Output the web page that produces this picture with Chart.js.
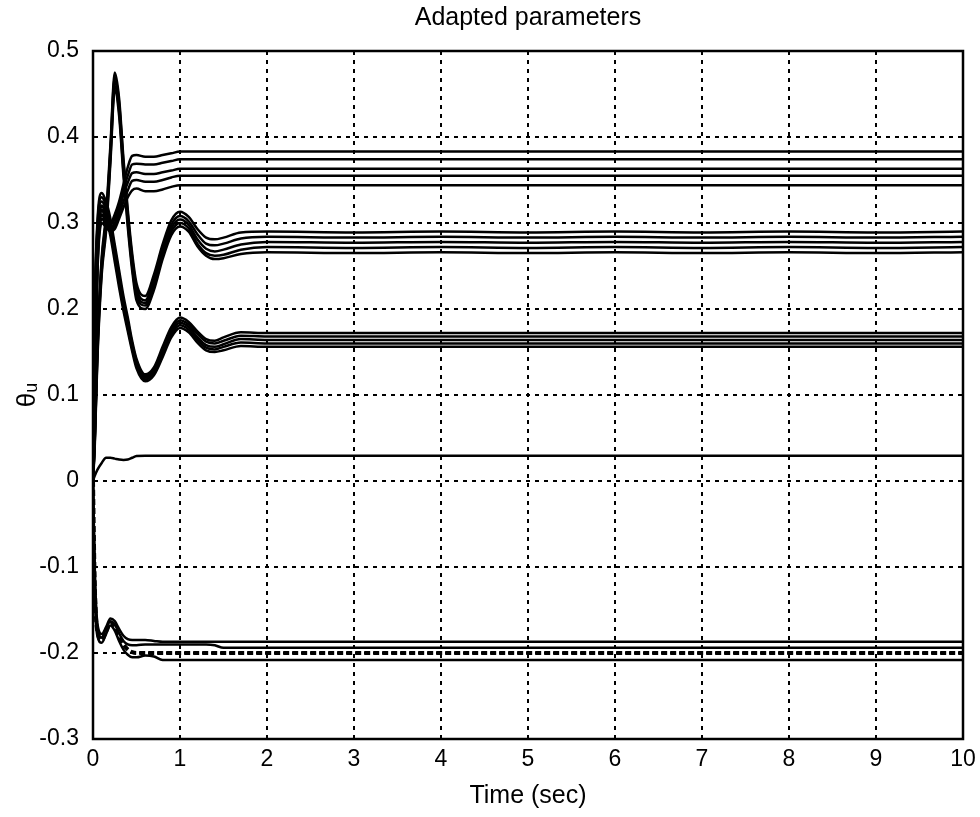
<!DOCTYPE html>
<html>
<head>
<meta charset="utf-8">
<script src="https://cdn.jsdelivr.net/npm/chart.js@4.4.1/dist/chart.umd.min.js"></script>
<style>
html,body{margin:0;padding:0;background:#fff;}
#wrap{width:980px;height:817px;}
</style>
</head>
<body>
<div id="wrap"><canvas id="c" width="980" height="817"></canvas></div>
<script>
// ---- data ----
const titleText = "Adapted parameters";
const xTitle = "Time (sec)";
const yTitle = "θᵤ";
const xTicks = [0,1,2,3,4,5,6,7,8,9,10];
const yTicks = [0.5,0.4,0.3,0.2,0.1,0,-0.1,-0.2,-0.3];
const yTickLabels = ["0.5","0.4","0.3","0.2","0.1","0","-0.1","-0.2","-0.3"];

const T = [0,0.02,0.05,0.1,0.15,0.2,0.25,0.3,0.35,0.4,0.45,0.5,0.6,0.7,0.8,0.9,1.0,1.1,1.2,1.3,1.4,1.5,1.7,2.0,3,4,5,6,7,8,9,10];

// upper bundle (settles 0.34-0.38)
const A1 = [0,0.13,0.26,0.32,0.31,0.30,0.31,0.325,0.345,0.365,0.378,0.379,0.377,0.377,0.379,0.381,0.383,0.383,0.383,0.383,0.383,0.383,0.383,0.383,0.383,0.383,0.383,0.383,0.383,0.383,0.383,0.383];
const A2 = [0,0.12,0.255,0.315,0.305,0.298,0.305,0.32,0.34,0.355,0.368,0.369,0.368,0.368,0.370,0.372,0.374,0.374,0.374,0.374,0.374,0.374,0.374,0.374,0.374,0.374,0.374,0.374,0.374,0.374,0.374,0.374];
const A3 = [0,0.12,0.25,0.31,0.30,0.295,0.30,0.315,0.333,0.347,0.358,0.359,0.357,0.357,0.359,0.361,0.363,0.363,0.363,0.363,0.363,0.363,0.363,0.363,0.363,0.363,0.363,0.363,0.363,0.363,0.363,0.363];
const A4 = [0,0.11,0.245,0.305,0.298,0.292,0.297,0.31,0.325,0.338,0.349,0.350,0.348,0.348,0.350,0.353,0.355,0.355,0.355,0.355,0.355,0.355,0.355,0.355,0.355,0.355,0.355,0.355,0.355,0.355,0.355,0.355];
const A5 = [0,0.11,0.24,0.30,0.295,0.29,0.293,0.305,0.318,0.33,0.338,0.340,0.337,0.337,0.339,0.342,0.344,0.344,0.344,0.344,0.344,0.344,0.344,0.344,0.344,0.344,0.344,0.344,0.344,0.344,0.344,0.344];

// big overshoot bundle (peak 0.47, settles 0.27-0.29)
const B1 = [0,0.05,0.16,0.26,0.31,0.39,0.475,0.445,0.375,0.315,0.265,0.23,0.215,0.24,0.275,0.303,0.313,0.307,0.293,0.283,0.281,0.283,0.289,0.290,0.289,0.290,0.289,0.290,0.289,0.290,0.289,0.290];
const B2 = [0,0.05,0.155,0.255,0.305,0.385,0.47,0.44,0.37,0.31,0.26,0.225,0.21,0.235,0.27,0.298,0.308,0.302,0.287,0.276,0.274,0.276,0.282,0.284,0.283,0.284,0.283,0.284,0.283,0.284,0.283,0.284];
const B3 = [0,0.045,0.15,0.25,0.30,0.38,0.465,0.435,0.365,0.305,0.255,0.22,0.207,0.23,0.266,0.294,0.304,0.298,0.281,0.270,0.267,0.269,0.275,0.278,0.277,0.278,0.277,0.278,0.277,0.278,0.277,0.278];
const B4 = [0,0.045,0.145,0.245,0.295,0.375,0.46,0.43,0.36,0.30,0.25,0.215,0.204,0.226,0.262,0.29,0.30,0.294,0.276,0.265,0.262,0.263,0.269,0.272,0.271,0.272,0.271,0.272,0.271,0.272,0.271,0.272];
const B5 = [0,0.04,0.14,0.24,0.29,0.37,0.455,0.425,0.355,0.295,0.245,0.21,0.20,0.222,0.258,0.286,0.296,0.29,0.273,0.262,0.258,0.259,0.264,0.266,0.265,0.266,0.265,0.266,0.265,0.266,0.265,0.266];

// middle bundle (peak 0.33, settles 0.155-0.172)
const C1 = [0,0.20,0.30,0.335,0.325,0.305,0.275,0.245,0.215,0.19,0.163,0.142,0.124,0.132,0.156,0.179,0.19,0.185,0.174,0.165,0.163,0.167,0.173,0.172,0.172,0.172,0.172,0.172,0.172,0.172,0.172,0.172];
const C2 = [0,0.195,0.295,0.33,0.32,0.30,0.27,0.24,0.21,0.186,0.16,0.14,0.122,0.13,0.153,0.176,0.187,0.182,0.171,0.162,0.16,0.163,0.169,0.168,0.168,0.168,0.168,0.168,0.168,0.168,0.168,0.168];
const C3 = [0,0.19,0.29,0.325,0.315,0.295,0.265,0.235,0.206,0.182,0.157,0.137,0.12,0.128,0.15,0.173,0.184,0.179,0.167,0.158,0.156,0.159,0.165,0.164,0.164,0.164,0.164,0.164,0.164,0.164,0.164,0.164];
const C4 = [0,0.185,0.285,0.32,0.31,0.29,0.26,0.23,0.202,0.178,0.154,0.134,0.118,0.126,0.147,0.17,0.181,0.176,0.164,0.155,0.153,0.156,0.161,0.16,0.16,0.16,0.16,0.16,0.16,0.16,0.16,0.16];
const C5 = [0,0.18,0.28,0.315,0.305,0.285,0.255,0.225,0.198,0.174,0.151,0.131,0.116,0.123,0.144,0.167,0.178,0.173,0.161,0.152,0.15,0.152,0.157,0.156,0.156,0.156,0.156,0.156,0.156,0.156,0.156,0.156];

// small parameter near 0.03
const D1 = [0,0.006,0.013,0.021,0.027,0.027,0.026,0.025,0.0245,0.025,0.027,0.029,0.0295,0.0295,0.0295,0.0295,0.0295,0.0295,0.0295,0.0295,0.0295,0.0295,0.0295,0.0295,0.0295,0.0295,0.0295,0.0295,0.0295,0.0295,0.0295,0.0295];

// negative bundle (settles -0.187 .. -0.208)
const E1 = [0,-0.10,-0.165,-0.178,-0.17,-0.16,-0.163,-0.172,-0.18,-0.184,-0.185,-0.185,-0.185,-0.186,-0.187,-0.187,-0.187,-0.187,-0.187,-0.187,-0.187,-0.187,-0.187,-0.187,-0.187,-0.187,-0.187,-0.187,-0.187,-0.187,-0.187,-0.187];
const E2 = [0,-0.11,-0.17,-0.182,-0.172,-0.163,-0.167,-0.177,-0.186,-0.19,-0.191,-0.191,-0.19,-0.19,-0.19,-0.19,-0.19,-0.19,-0.19,-0.19,-0.191,-0.194,-0.194,-0.194,-0.194,-0.194,-0.194,-0.194,-0.194,-0.194,-0.194,-0.194];
const E3 = [0,-0.12,-0.175,-0.185,-0.175,-0.165,-0.17,-0.181,-0.19,-0.196,-0.199,-0.2,-0.2,-0.2,-0.2,-0.2,-0.2,-0.2,-0.2,-0.2,-0.2,-0.2,-0.2,-0.2,-0.2,-0.2,-0.2,-0.2,-0.2,-0.2,-0.2,-0.2];
const E4 = [0,-0.13,-0.18,-0.188,-0.178,-0.168,-0.174,-0.186,-0.196,-0.202,-0.205,-0.205,-0.203,-0.204,-0.208,-0.208,-0.208,-0.208,-0.208,-0.208,-0.208,-0.208,-0.208,-0.208,-0.208,-0.208,-0.208,-0.208,-0.208,-0.208,-0.208,-0.208];

const solidSeries = [A1,A2,A3,A4,A5,B1,B2,B3,B4,B5,C1,C2,C3,C4,C5,D1,E1,E2,E4];
const dottedSeries = [E3];

// ---- chart ----
const FONT = "'Liberation Sans', Arial, sans-serif";
function toPts(arr){ return arr.map((v,i)=>({x:T[i], y:v})); }
const datasets = [];
solidSeries.forEach(s => datasets.push({
  data: toPts(s), borderColor:'#000', borderWidth:2.5, pointRadius:0,
  tension:0.35, cubicInterpolationMode:'monotone', fill:false
}));
dottedSeries.forEach(s => datasets.push({
  data: toPts(s), borderColor:'#000', borderWidth:4, pointRadius:0,
  borderDash:[6,3], tension:0.35, cubicInterpolationMode:'monotone', fill:false
}));

const frame = {
  id:'frame',
  afterDraw(chart){
    const {ctx, chartArea:a} = chart;
    ctx.save();
    ctx.strokeStyle='#000'; ctx.lineWidth=2.5; ctx.setLineDash([]);
    ctx.strokeRect(a.left, a.top, a.right-a.left, a.bottom-a.top);
    ctx.restore();
  }
};

new Chart(document.getElementById('c'), {
  type:'line',
  data:{datasets},
  plugins:[frame],
  options:{
    responsive:false, animation:false, devicePixelRatio:1,
    layout:{padding:{left:0,right:17,top:0,bottom:0}},
    plugins:{
      legend:{display:false}, tooltip:{enabled:false},
      title:{display:true, fullSize:false, text:titleText, color:'#000',
        font:{family:FONT, size:25, weight:'normal', lineHeight:1.2},
        padding:{top:3,bottom:18}}
    },
    scales:{
      x:{type:'linear', min:0, max:10,
        afterBuildTicks(s){ s.ticks = xTicks.map(v=>({value:v})); },
        afterFit(s){ s.height = 78; s.paddingRight = 0; s.paddingLeft = 0; },
        grid:{color:'#000', lineWidth:2, drawTicks:false},
        border:{display:true, color:'#000', width:2, dash:[4,5]},
        ticks:{color:'#000', padding:7, maxRotation:0, font:{family:FONT, size:23},
          callback:(v)=>String(v)},
        title:{display:true, text:xTitle, color:'#000', font:{family:FONT, size:25}, padding:{top:6,bottom:6}}
      },
      y:{type:'linear', min:-0.3, max:0.5,
        afterBuildTicks(s){ s.ticks = yTicks.map(v=>({value:v})); },
        afterFit(s){ s.width = 93; s.paddingTop = 0; s.paddingBottom = 0; },
        grid:{color:'#000', lineWidth:2, drawTicks:false},
        border:{display:true, color:'#000', width:2, dash:[4,5]},
        ticks:{color:'#000', padding:14, font:{family:FONT, size:23},
          callback:(v)=>{ const i = yTicks.findIndex(t=>Math.abs(t-v)<1e-9); return i>=0 ? yTickLabels[i] : ''; }},
        title:{display:true, text:yTitle, color:'#000', font:{family:FONT, size:26}, padding:{top:12,bottom:12}}
      }
    }
  }
});
</script>
</body>
</html>
